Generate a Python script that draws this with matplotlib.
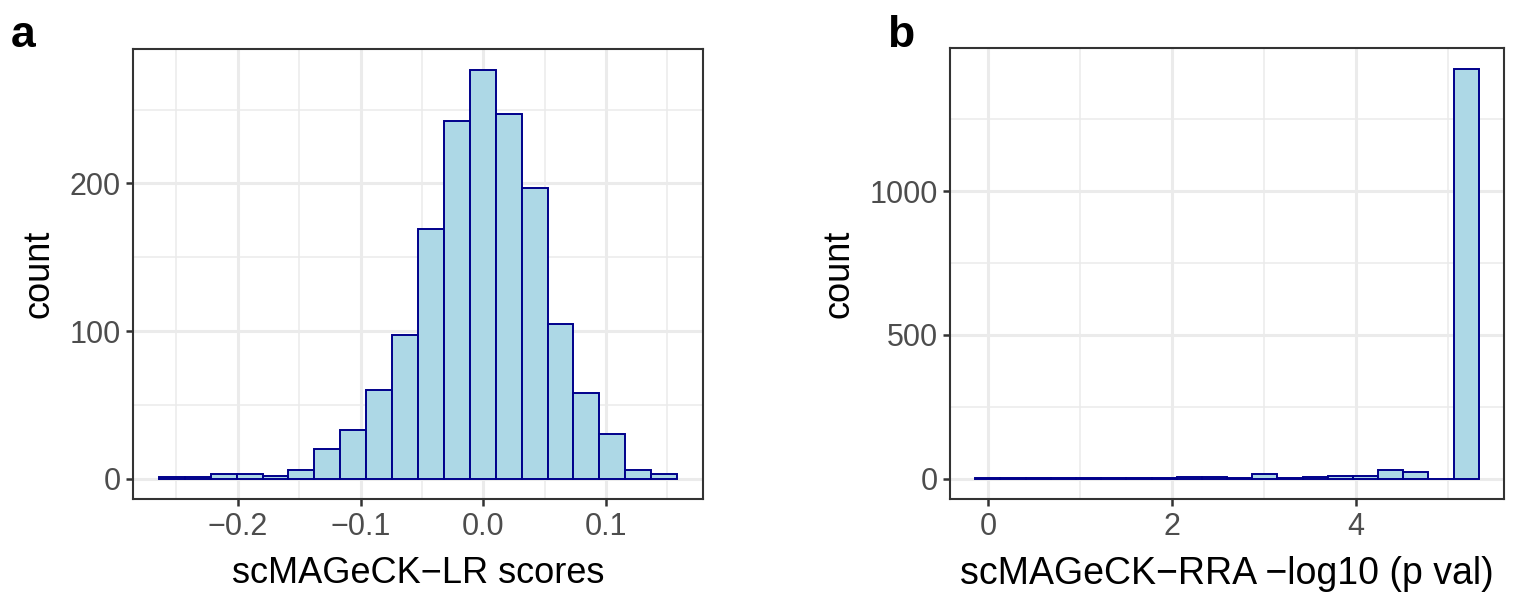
import numpy as np
import matplotlib
matplotlib.use('Agg')
import matplotlib.pyplot as plt
from matplotlib.ticker import MultipleLocator

plt.rcParams['font.family'] = ['Liberation Sans', 'DejaVu Sans']

# scMAGeCK-LR score histogram (20 bins between min and max score)
lr_min, lr_max = -0.2537, 0.1474
lr_counts = [1, 1, 3, 3, 2, 6, 20, 33, 60, 97, 169, 242, 277, 247, 197, 105, 58, 30, 6, 3]

# scMAGeCK-RRA -log10(p) histogram
rra_min, rra_max = 0.0, 5.2
rra_counts = [2, 1, 2, 1, 2, 2, 2, 1, 5, 6, 2, 15, 4, 7, 10, 10, 30, 22, 0, 1427]

FILL = '#ADD8E6'
EDGE = '#00008B'
GRID = '#EBEBEB'
FRAME = '#333333'
TICKTXT = '#4D4D4D'


def hist_panel(ax, lo, hi, counts, xmajor, ymajor, xlabel, xsize):
    n = len(counts)
    w = (hi - lo) / (n - 1)
    edges = lo - w / 2 + w * np.arange(n + 1)
    ax.bar(edges[:-1], counts, width=w, align='edge', color=FILL,
           edgecolor=EDGE, linewidth=1.4, zorder=3)

    span = edges[-1] - edges[0]
    ax.set_xlim(edges[0] - 0.05 * span, edges[-1] + 0.05 * span)
    top = max(counts)
    ax.set_ylim(-0.05 * top, 1.05 * top)

    ax.xaxis.set_major_locator(MultipleLocator(xmajor))
    ax.xaxis.set_minor_locator(MultipleLocator(xmajor / 2))
    ax.yaxis.set_major_locator(MultipleLocator(ymajor))
    ax.yaxis.set_minor_locator(MultipleLocator(ymajor / 2))
    ax.grid(which='major', color=GRID, linewidth=2.2, zorder=0)
    ax.grid(which='minor', color=GRID, linewidth=1.1, zorder=0)
    ax.set_axisbelow(True)

    for s in ax.spines.values():
        s.set_color(FRAME)
        s.set_linewidth(1.5)
    ax.tick_params(which='major', length=5, width=1.8, color=FRAME,
                   labelsize=22, labelcolor=TICKTXT, pad=4)
    ax.tick_params(which='minor', length=0)
    ax.set_xlabel(xlabel, fontsize=xsize, labelpad=10)
    ax.set_ylabel('count', fontsize=26, labelpad=9)


fig = plt.figure(figsize=(15.24, 6), dpi=100)
ax1 = fig.add_axes([0.0873, 0.168, 0.374, 0.75])
ax2 = fig.add_axes([0.6234, 0.168, 0.3635, 0.752])

hist_panel(ax1, lr_min, lr_max, lr_counts, 0.1, 100, 'scMAGeCK\u2212LR scores', 26)
hist_panel(ax2, rra_min, rra_max, rra_counts, 2, 500, 'scMAGeCK\u2212RRA \u2212log10 (p val)', 27)
ax1.xaxis.set_major_formatter(plt.FuncFormatter(lambda v, p: f'{v:.1f}'.replace('-', '\u2212')))

fig.text(0.007, 0.922, 'a', fontsize=32, fontweight='bold')
fig.text(0.582, 0.922, 'b', fontsize=32, fontweight='bold')

fig.savefig('out.png', dpi=100)
